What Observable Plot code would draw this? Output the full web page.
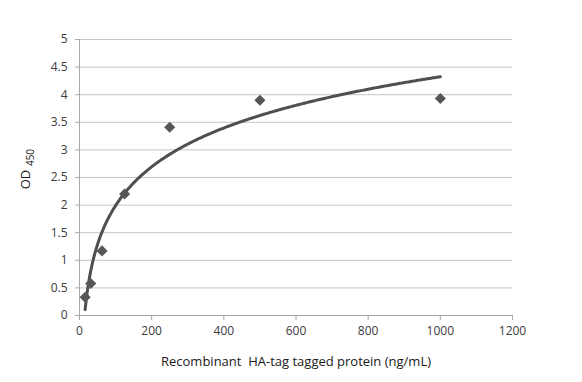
<!DOCTYPE html>
<html>
<head>
<meta charset="utf-8">
<script src="https://cdn.jsdelivr.net/npm/d3@7"></script>
<script src="https://cdn.jsdelivr.net/npm/@observablehq/plot@0.6"></script>
<style>
  html, body { margin: 0; padding: 0; background: #fff; }
</style>
</head>
<body>
<div id="chart"></div>
<script>
// Data
const concentrations = [15.625, 31.25, 62.5, 125, 250, 500, 1000];
const od450 = [0.33, 0.58, 1.17, 2.20, 3.41, 3.90, 3.93];
const xTicks = [0, 200, 400, 600, 800, 1000, 1200];
const yTicks = [0, 0.5, 1, 1.5, 2, 2.5, 3, 3.5, 4, 4.5, 5];
const xTitle = "Recombinant  HA-tag tagged protein (ng/mL)";
const yTitle = "OD";
const ySub = "450";

const points = concentrations.map((c, i) => ({x: c, y: od450[i]}));

// Logarithmic trendline fitted to the points (least squares on ln x)
const lx = concentrations.map(Math.log);
const mx = d3.mean(lx), my = d3.mean(od450);
const a = d3.sum(lx, (v, i) => (v - mx) * (od450[i] - my)) / d3.sum(lx, v => (v - mx) ** 2);
const b = my - a * mx;
const x0 = d3.min(concentrations), x1 = d3.max(concentrations);
const fit = d3.range(0, 301).map(i => {
  const x = x0 + (x1 - x0) * i / 300;
  return {x, y: a * Math.log(x) + b};
});

const gridColor = "#c6c6c6";
const axisColor = "#a8a8a8";
const textColor = "#3c3c3c";

const chart = Plot.plot({
  width: 582,
  height: 382,
  marginLeft: 79,
  marginRight: 70,
  marginTop: 39,
  marginBottom: 67,
  style: {fontFamily: "'Open Sans', sans-serif", fontSize: "12px", color: textColor, background: "#fff"},
  x: {domain: [0, 1200]},
  y: {domain: [0, 5]},
  marks: [
    Plot.gridY(yTicks, {stroke: gridColor, strokeOpacity: 1, strokeWidth: 1}),
    Plot.ruleY([0], {stroke: axisColor}),
    Plot.ruleX([0], {stroke: axisColor}),
    Plot.axisX(xTicks, {tickSize: 5, tickPadding: 6, stroke: axisColor, fill: textColor, label: null, tickFormat: d => String(d)}),
    Plot.axisY(yTicks, {tickSize: 4, tickPadding: 8, stroke: axisColor, fill: textColor, label: null, tickFormat: d => String(d)}),
    Plot.line(fit, {x: "x", y: "y", stroke: "#4f4f4f", strokeWidth: 3}),
    Plot.dot(points, {x: "x", y: "y", symbol: "diamond2", r: 5, fill: "#565656", stroke: "none"}),
    Plot.text([xTitle], {frameAnchor: "bottom", dy: 50, fontSize: 13, fill: "#1a1a1a", textAnchor: "middle"}),
    Plot.text([yTitle], {frameAnchor: "left", dx: -54, dy: 2, rotate: -90, fontSize: 13, fill: "#1a1a1a", textAnchor: "middle"}),
    Plot.text([ySub], {frameAnchor: "left", dx: -49, dy: -20, rotate: -90, fontSize: 10, fill: "#1a1a1a", textAnchor: "middle"})
  ]
});
document.getElementById("chart").append(chart);
</script>
</body>
</html>
